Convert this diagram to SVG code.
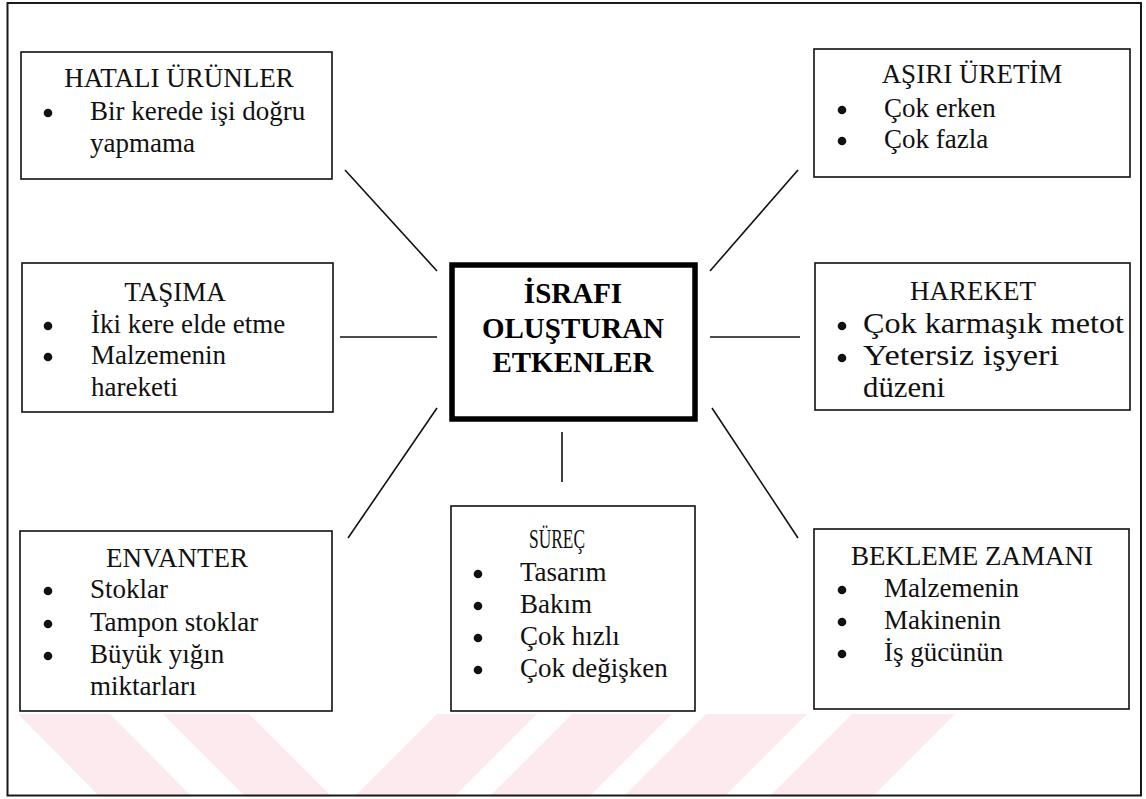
<svg xmlns="http://www.w3.org/2000/svg" width="1146" height="799" viewBox="0 0 1146 799">
  <style>
    .frame { fill: none; stroke: #1a1a1a; stroke-width: 2; }
    .box { fill: #ffffff; stroke: #111111; stroke-width: 1.6; }
    .core { fill: #ffffff; stroke: #000000; stroke-width: 5.5; }
    .link { stroke: #111111; stroke-width: 1.6; fill: none; }
    .t { font-family: "Liberation Serif", "Times New Roman", serif; font-size: 27px; fill: #111111; }
    .ttl { text-anchor: middle; }
    .big { font-size: 28.5px; }
    .core-t { font-family: "Liberation Serif", "Times New Roman", serif; font-size: 29px; font-weight: bold; fill: #000000; text-anchor: middle; }
    .wm { fill: #fdeaee; }
  </style>
  <defs>
    <circle id="dot" r="4.3" fill="#111111"/>
  </defs>

  <rect width="1146" height="799" fill="#ffffff"/>

  <!-- faint diagonal stripes along the bottom edge -->
  <g id="stripes">
    <polygon class="wm" points="18,714 110,714 192,797 100,797"/>
    <polygon class="wm" points="163,714 249,714 332,797 246,797"/>
    <polygon class="wm" points="437,714 537,714 454,797 354,797"/>
    <polygon class="wm" points="572,714 672,714 589,797 489,797"/>
    <polygon class="wm" points="706,714 807,714 724,797 623,797"/>
    <polygon class="wm" points="852,714 955,714 872,797 769,797"/>
  </g>

  <rect class="frame" x="7.5" y="3" width="1133.5" height="792.5"/>

  <g id="connectors">
    <line class="link" x1="345" y1="170" x2="437" y2="271"/>
    <line class="link" x1="798" y1="170" x2="710" y2="271"/>
    <line class="link" x1="340" y1="337" x2="437" y2="337"/>
    <line class="link" x1="710" y1="337" x2="800" y2="337"/>
    <line class="link" x1="437" y1="408" x2="348" y2="538"/>
    <line class="link" x1="712" y1="408" x2="798" y2="538"/>
    <line class="link" x1="562" y1="432" x2="562" y2="482"/>
  </g>

  <g id="core">
    <rect class="core" x="452" y="265" width="243" height="154"/>
    <text class="core-t" x="573" y="303">İSRAFI</text>
    <text class="core-t" x="573" y="338">OLUŞTURAN</text>
    <text class="core-t" x="573" y="372">ETKENLER</text>
  </g>

  <g id="hatali-urunler">
    <rect class="box" x="21" y="52" width="311" height="127"/>
    <text class="t ttl" x="179" y="87">HATALI ÜRÜNLER</text>
    <use href="#dot" x="48" y="113"/>
    <text class="t" x="90" y="120">Bir kerede işi doğru</text>
    <text class="t" x="90" y="152">yapmama</text>
  </g>

  <g id="asiri-uretim">
    <rect class="box" x="814" y="49" width="316" height="128"/>
    <text class="t ttl" x="972" y="83">AŞIRI ÜRETİM</text>
    <use href="#dot" x="842" y="110"/>
    <text class="t" x="884" y="117">Çok erken</text>
    <use href="#dot" x="842" y="141"/>
    <text class="t" x="884" y="148">Çok fazla</text>
  </g>

  <g id="tasima">
    <rect class="box" x="22" y="263" width="311" height="149"/>
    <text class="t ttl" x="175" y="301">TAŞIMA</text>
    <use href="#dot" x="48" y="326"/>
    <text class="t" x="91" y="333">İki kere elde etme</text>
    <use href="#dot" x="48" y="357"/>
    <text class="t" x="91" y="364">Malzemenin</text>
    <text class="t" x="91" y="396">hareketi</text>
  </g>

  <g id="hareket">
    <rect class="box" x="815" y="263" width="315" height="147"/>
    <text class="t ttl" x="973" y="300">HAREKET</text>
    <use href="#dot" x="842" y="326"/>
    <text class="t big" x="863" y="333" textLength="261" lengthAdjust="spacingAndGlyphs">Çok karmaşık metot</text>
    <use href="#dot" x="842" y="358"/>
    <text class="t big" x="863" y="365" textLength="196" lengthAdjust="spacingAndGlyphs">Yetersiz işyeri</text>
    <text class="t big" x="863" y="397" textLength="82" lengthAdjust="spacingAndGlyphs">düzeni</text>
  </g>

  <g id="envanter">
    <rect class="box" x="20" y="531" width="312" height="180"/>
    <text class="t ttl" x="177" y="567">ENVANTER</text>
    <use href="#dot" x="48" y="591"/>
    <text class="t" x="90" y="598">Stoklar</text>
    <use href="#dot" x="48" y="624"/>
    <text class="t" x="90" y="631">Tampon stoklar</text>
    <use href="#dot" x="48" y="656"/>
    <text class="t" x="90" y="663">Büyük yığın</text>
    <text class="t" x="90" y="695">miktarları</text>
  </g>

  <g id="surec">
    <rect class="box" x="451" y="506" width="244" height="205"/>
    <text class="t" x="529" y="548" textLength="56" lengthAdjust="spacingAndGlyphs">SÜREÇ</text>
    <use href="#dot" x="478" y="574"/>
    <text class="t" x="520" y="581">Tasarım</text>
    <use href="#dot" x="478" y="606"/>
    <text class="t" x="520" y="613">Bakım</text>
    <use href="#dot" x="478" y="638"/>
    <text class="t" x="520" y="645">Çok hızlı</text>
    <use href="#dot" x="478" y="670"/>
    <text class="t" x="520" y="677">Çok değişken</text>
  </g>

  <g id="bekleme-zamani">
    <rect class="box" x="814" y="529" width="315" height="180"/>
    <text class="t ttl" x="972" y="565">BEKLEME ZAMANI</text>
    <use href="#dot" x="842" y="590"/>
    <text class="t" x="884" y="597">Malzemenin</text>
    <use href="#dot" x="842" y="622"/>
    <text class="t" x="884" y="629">Makinenin</text>
    <use href="#dot" x="842" y="654"/>
    <text class="t" x="884" y="661">İş gücünün</text>
  </g>
</svg>
